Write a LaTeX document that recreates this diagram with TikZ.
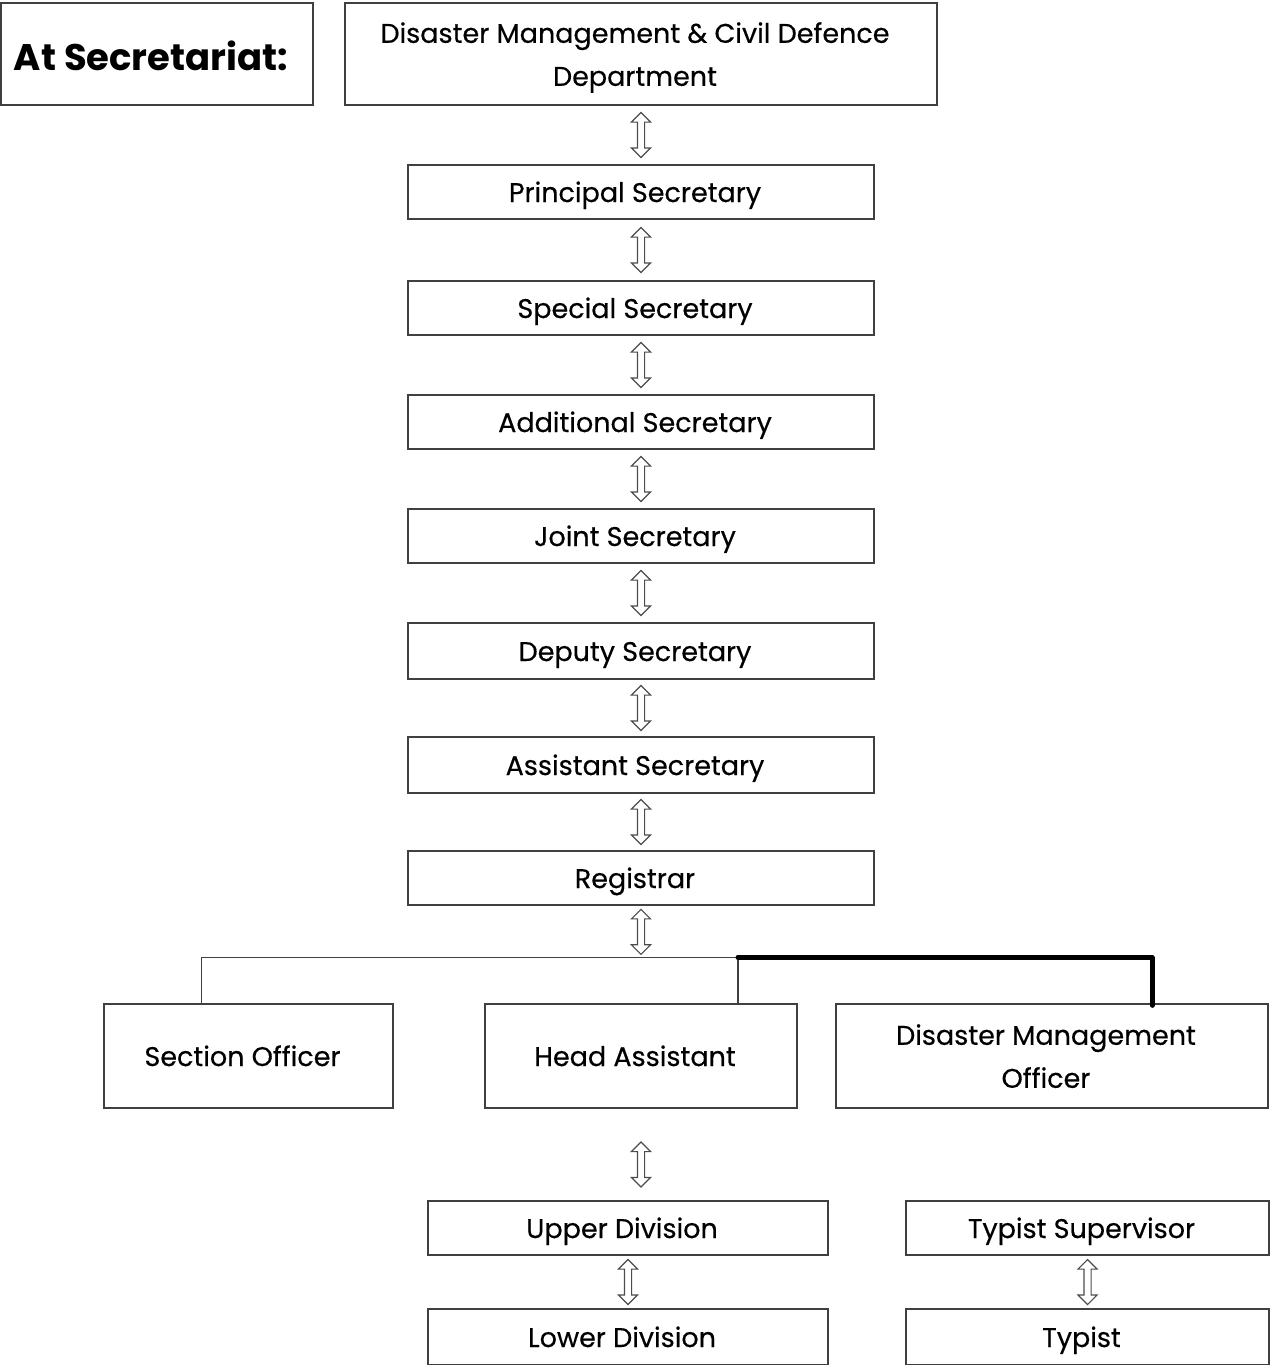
\documentclass[tikz,border=0pt]{standalone}
\usepackage{fontspec}
\setmainfont{Poppins}
\newfontfamily\medfont{Poppins}[FakeBold=0.4]
\usetikzlibrary{shapes.arrows,calc}
\newcommand{\rk}{\kern12pt}
\begin{document}
\begin{tikzpicture}[x=1pt,y=-1pt,
  box/.style={draw=black!75,line width=1.3pt,inner sep=0pt,align=center,font=\medfont\fontsize{27}{43}\selectfont},
  one/.style={text height=26pt,text depth=6pt},
  two/.style={text depth=0pt},
  dbl/.style={double arrow,draw=black!70,line width=1.1pt,rotate=90,minimum height=45pt,minimum width=0pt,inner xsep=0pt,inner ysep=3pt,double arrow head extend=6pt,double arrow head indent=0pt},
  link/.style={draw=black!75,line width=1.3pt},
  thick link/.style={draw=black,line width=5pt,line cap=round,line join=round}]
\useasboundingbox (0,0) rectangle (1271,1365);
\node[box,one,minimum width=312pt,minimum height=102pt,font=\bfseries\fontsize{37}{40}\selectfont,text height=36pt,text depth=4pt] (at) at (157,54) {At Secretariat:\rk};
\node[box,two,minimum width=592pt,minimum height=102pt] (dm) at (641,54) {Disaster Management \& Civil Defence\rk\\Department\rk};
\node[box,one,minimum width=466pt,minimum height=54pt] (ps) at (641,192) {Principal Secretary\rk};
\node[box,one,minimum width=466pt,minimum height=54pt] (ss) at (641,308) {Special Secretary\rk};
\node[box,one,minimum width=466pt,minimum height=54pt] (ads) at (641,422) {Additional Secretary\rk};
\node[box,one,minimum width=466pt,minimum height=54pt] (js) at (641,536) {Joint Secretary\rk};
\node[box,one,minimum width=466pt,minimum height=56pt] (ds) at (641,651) {Deputy Secretary\rk};
\node[box,one,minimum width=466pt,minimum height=56pt] (asst) at (641,765) {Assistant Secretary\rk};
\node[box,one,minimum width=466pt,minimum height=54pt] (reg) at (641,878) {Registrar\rk};
\coordinate (jn) at (641,958);
\node[box,one,minimum width=289pt,minimum height=104pt] (so) at (248.5,1056) {Section Officer\rk};
\node[box,one,minimum width=312pt,minimum height=104pt] (ha) at (641,1056) {Head Assistant\rk};
\node[box,two,minimum width=432pt,minimum height=104pt] (dmo) at (1052,1056) {Disaster Management\rk\\Officer\rk};
\node[box,one,minimum width=400pt,minimum height=54pt] (ud) at (628,1228) {Upper Division\rk};
\node[box,one,minimum width=400pt,minimum height=56pt] (ld) at (628,1337) {Lower Division\rk};
\node[box,one,minimum width=363pt,minimum height=54pt] (tsup) at (1087.5,1228) {Typist Supervisor\rk};
\node[box,one,minimum width=363pt,minimum height=56pt] (typ) at (1087.5,1337) {Typist\rk};
% hollow double arrows
\path (dm.south) -- node[dbl]{} (ps.north);
\path (ps.south) -- node[dbl]{} (ss.north);
\path (ss.south) -- node[dbl]{} (ads.north);
\path (ads.south) -- node[dbl]{} (js.north);
\path (js.south) -- node[dbl]{} (ds.north);
\path (ds.south) -- node[dbl]{} (asst.north);
\path (asst.south) -- node[dbl]{} (reg.north);
\path (reg.south) -- node[dbl]{} (jn);
\path ([yshift=-10pt]ha.south) -- node[dbl]{} ([yshift=-10pt]ud.north -| ha.south);
\path (ud.south) -- node[dbl]{} (ld.north);
\path (tsup.south) -- node[dbl]{} (typ.north);
% tree lines
\coordinate (hj) at ($(ha.north)+(97,-46)$);
\draw[link] ([xshift=-47pt]so.north) |- (hj) -- ([xshift=97pt]ha.north);
\draw[thick link] (hj) -| ([xshift=100pt,yshift=-2pt]dmo.north);
\end{tikzpicture}
\end{document}
